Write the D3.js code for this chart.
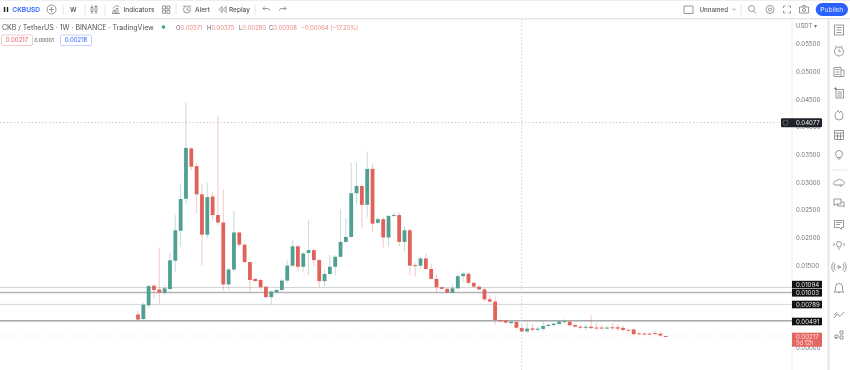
<!DOCTYPE html>
<html>
<head>
<meta charset="utf-8">
<script src="https://cdn.jsdelivr.net/npm/d3@7"></script>
<style>
  html, body { margin: 0; padding: 0; background: #fff; overflow: hidden; }
  svg { display: block; filter: blur(0.5px); }
  text { font-family: Inter, "Noto Sans", sans-serif; }
</style>
</head>
<body>
<svg id="chart"></svg>
<script>
// weekly candles, prices in units of 0.001 USDT
const opens = [
  6.06,5.24,7.72,11.27,10.6,10.0,10.67,15.79,21.2,27.0,
  36.1,32.9,27.8,20.5,27.4,24.05,22.7,11.5,14.2,20.9,
  18.7,15.55,12.5,12.3,11.1,9.2,10.1,10.5,12.2,14.9,
  18.4,14.7,17.2,17.7,15.9,12.1,13.4,14.7,16.5,19.2,
  20.1,28.0,29.3,25.9,32.4,22.65,23.3,20.0,24.0,24.05,
  19.2,21.3,15.0,14.9,16.2,14.3,12.5,11.0,10.7,10.0,
  10.8,13.0,13.45,11.8,11.1,10.6,8.8,8.4,5.05,5.0,
  4.5,4.7,3.6,3.0,3.55,3.3,3.45,3.98,4.15,4.35,
  4.8,4.75,4.15,3.85,3.7,3.85,3.7,3.7,3.55,3.75,
  3.75,3.65,3.3,3.35,2.65,2.6,2.6,2.7,2.6,2.18
];
const closes = [
  5.15,7.83,11.2,10.49,10.0,10.8,15.86,21.28,26.94,36.2,
  32.8,27.8,20.5,27.3,24.05,22.7,11.5,14.2,20.9,18.7,
  15.55,12.3,12.1,11.0,9.2,10.2,10.5,12.2,14.9,18.4,
  14.7,17.1,17.7,15.9,12.1,13.4,14.7,16.5,19.2,20.1,
  28.0,29.3,25.9,32.4,22.5,23.3,20.0,23.9,24.05,19.2,
  21.3,14.9,14.9,16.2,14.3,12.5,11.0,10.7,10.0,10.8,
  13.0,13.45,11.8,11.1,10.6,8.8,8.4,5.06,4.9,4.6,
  4.75,3.67,3.0,3.5,3.3,3.5,3.98,4.2,4.4,4.8,
  4.85,4.1,3.85,3.7,3.85,3.6,3.6,3.6,3.7,3.6,
  3.5,3.25,3.15,2.5,2.5,2.5,2.55,2.55,2.25,2.17
];
const highs = [
  6.7,8.2,11.4,11.6,18.1,11.4,17.2,24.05,29.8,44.4,
  36.4,33.5,29.7,29.9,28.2,42.0,28.6,14.5,24.8,21.1,
  19.0,15.7,12.7,12.6,11.2,10.5,10.7,12.5,15.9,19.5,
  18.6,17.4,23.1,17.85,16.1,14.2,16.8,16.8,25.1,23.45,
  33.5,33.5,29.6,35.5,33.3,23.7,23.7,24.05,24.5,24.5,
  22.1,21.5,15.4,16.5,17.1,15.2,13.2,11.2,10.9,11.4,
  13.4,13.8,13.6,12.0,11.4,10.8,9.6,9.2,5.2,5.1,
  4.9,5.0,4.4,4.7,4.3,3.8,4.9,4.4,4.5,5.0,
  5.2,4.9,4.4,4.1,4.3,5.97,4.5,4.2,4.0,4.5,
  4.3,4.0,3.4,3.5,2.8,2.85,2.8,3.1,3.0,2.2
];
const lows = [
  5.1,5.1,7.2,9.0,7.8,9.6,10.4,13.8,18.3,25.9,
  32.2,24.4,15.0,19.9,23.1,22.2,10.4,10.5,13.8,18.3,
  15.3,10.0,12.0,10.5,9.0,7.8,9.9,10.3,11.8,14.7,
  13.8,13.8,13.2,14.7,11.0,11.1,13.2,13.2,16.4,19.0,
  19.9,25.9,21.6,23.7,21.0,22.5,18.2,18.4,23.8,18.4,
  17.4,13.2,13.0,14.4,14.1,12.4,10.0,10.5,9.9,9.9,
  10.6,12.0,11.4,10.9,10.4,8.4,8.25,4.2,4.6,4.3,
  4.3,3.4,2.8,2.7,3.0,3.0,3.0,3.8,4.0,4.2,
  4.5,4.0,3.75,3.4,3.2,3.4,3.4,3.4,3.4,3.2,
  3.1,3.0,3.0,2.4,2.4,2.4,2.4,2.4,2.15,2.1
];
const priceTicks = [0, 5, 10, 15, 20, 25, 30, 35, 40, 45, 50, 55];
const levels = [10.94, 10.03, 7.89, 4.91];
const levelStyles = [['#d4d4d6', 1], ['#b4b4b6', 1.6], ['#d4d4d6', 1], ['#77777a', 1]];
const crosshairPrice = 40.77;
const lastPrice = 2.17;

const green = '#4f9f92', red = '#e0625a', axisGrey = '#6f727b', iconGrey = '#6a6d75';
const width = 850, height = 370, plotRight = 792;

const svg = d3.select('#chart').attr('width', width).attr('height', height);
const x = d3.scaleLinear().domain([0, opens.length - 1]).range([138, 665.7]);
const y = d3.scaleLinear().domain([0, 55]).range([348, 44]);
const fmt = d => (d / 1000).toFixed(5);

// axis first so the tags can sit on top of it
svg.append('line').attr('x1', plotRight).attr('x2', plotRight).attr('y1', 19).attr('y2', height)
  .attr('stroke', '#eeeef0');
const yAxis = d3.axisRight(y).tickValues(priceTicks).tickSize(0).tickPadding(0).tickFormat(fmt);
const yAxisG = svg.append('g').attr('transform', `translate(796,0)`).call(yAxis);
yAxisG.select('.domain').remove();
yAxisG.selectAll('text').attr('font-size', 6.1).attr('fill', axisGrey).attr('font-family', 'Inter');

// horizontal levels
svg.selectAll('.level').data(levels).join('line')
  .attr('class', 'level')
  .attr('x1', 0).attr('x2', plotRight)
  .attr('y1', d => y(d)).attr('y2', d => y(d))
  .attr('stroke', (d, i) => levelStyles[i][0])
  .attr('stroke-width', (d, i) => levelStyles[i][1]);

// last price guide + crosshair
svg.append('line').attr('x1', 0).attr('x2', plotRight).attr('y1', y(lastPrice)).attr('y2', y(lastPrice))
  .attr('stroke', '#f3e3e2').attr('stroke-dasharray', '1 2');
svg.append('line').attr('x1', 0).attr('x2', 781).attr('y1', y(crosshairPrice)).attr('y2', y(crosshairPrice))
  .attr('stroke', '#b9bbc0').attr('stroke-width', 0.8).attr('stroke-dasharray', '1.5 2');
svg.append('line').attr('x1', 521.7).attr('x2', 521.7).attr('y1', 19).attr('y2', height)
  .attr('stroke', '#c4c6cb').attr('stroke-width', 0.8).attr('stroke-dasharray', '1.5 2');

// candles
const candles = svg.append('g').selectAll('g').data(opens).join('g');
candles.append('line')
  .attr('x1', (d, i) => x(i)).attr('x2', (d, i) => x(i))
  .attr('y1', (d, i) => y(highs[i])).attr('y2', (d, i) => y(lows[i]))
  .attr('stroke', (d, i) => closes[i] >= d ? green : red)
  .attr('stroke-opacity', 0.35);
candles.append('rect')
  .attr('x', (d, i) => x(i) - 1.9).attr('width', 3.8)
  .attr('y', (d, i) => y(Math.max(d, closes[i])))
  .attr('height', (d, i) => Math.max(1, Math.abs(y(d) - y(closes[i]))))
  .attr('fill', (d, i) => closes[i] >= d ? green : red);

// price tags on the axis
const tagY = [284.6, 292.8, 304.5, 321.5];
svg.selectAll('.tag').data(levels).join('g').attr('class', 'tag')
  .attr('transform', (d, i) => `translate(792,${tagY[i]})`)
  .call(g => g.append('rect').attr('y', -3.8).attr('width', 30).attr('height', 7.6).attr('fill', '#111'))
  .call(g => g.append('text').attr('x', 4).attr('y', 2.2).attr('font-size', 6.1).attr('fill', '#e8e8e8').text(d => fmt(d)));

svg.append('rect').attr('x', 781).attr('y', y(crosshairPrice) - 4.5).attr('width', 41).attr('height', 9)
  .attr('rx', 1).attr('fill', '#1f2128');
svg.append('circle').attr('cx', 785.5).attr('cy', y(crosshairPrice)).attr('r', 2.6)
  .attr('fill', 'none').attr('stroke', '#8b8d94').attr('stroke-width', 0.6);
svg.append('text').attr('x', 796).attr('y', y(crosshairPrice) + 2.2).attr('font-size', 6.1)
  .attr('fill', '#eee').text(fmt(crosshairPrice));

svg.append('rect').attr('x', 792).attr('y', 332.7).attr('width', 30).attr('height', 14).attr('fill', '#e4675f');
svg.append('text').attr('x', 796).attr('y', 338.5).attr('font-size', 6.1).attr('fill', '#fde').text(fmt(lastPrice));
svg.append('text').attr('x', 796).attr('y', 345).attr('font-size', 5.6).attr('fill', '#fde').text('5d 12h');

svg.append('text').attr('x', 796).attr('y', 28).attr('font-size', 6).attr('fill', axisGrey).text('USDT ▾');

// top toolbar
svg.append('rect').attr('width', width).attr('height', 1).attr('fill', '#eeeef0');
svg.append('rect').attr('y', 18).attr('width', width).attr('height', 1.4).attr('fill', '#e6e6e8');
svg.append('rect').attr('x', 827.5).attr('y', 19).attr('width', 2).attr('height', height - 19).attr('fill', '#e6e6e8');

const toolbarText = [
  ['CKBUSD', 12.3, 6.6, '#2962ff', 600],
  ['W', 70, 6.4, '#50535a', 600],
  ['Indicators', 123.5, 6.5, '#50535a', 500],
  ['Alert', 195, 6.5, '#50535a', 500],
  ['Replay', 229, 6.5, '#50535a', 500],
  ['Unnamed', 699.5, 6.2, '#50535a', 500]
];
svg.selectAll('.tool').data(toolbarText).join('text').attr('class', 'tool')
  .attr('x', d => d[1]).attr('y', 12).attr('font-size', d => d[2])
  .attr('fill', d => d[3]).attr('font-weight', d => d[4]).text(d => d[0]);

svg.selectAll('.sep').data([63, 85, 105, 176, 255, 741]).join('line').attr('class', 'sep')
  .attr('x1', d => d).attr('x2', d => d).attr('y1', 4).attr('y2', 15).attr('stroke', '#e6e6e8');

svg.append('rect').attr('x', 815.7).attr('y', 3).attr('width', 32.3).attr('height', 13).attr('rx', 6.5).attr('fill', '#2962ff');
svg.append('text').attr('x', 831.8).attr('y', 12).attr('text-anchor', 'middle').attr('font-size', 6.7)
  .attr('fill', '#e6ecff').text('Publish');

// icons are plain little outlines, path relative to their centre
const shapes = {
  plus: 'M-4.5,0a4.5,4.5 0 1,0 9,0a4.5,4.5 0 1,0 -9,0M-2.5,0H2.5M0,-2.5V2.5',
  candle: 'M-3,-2h2v4h-2zM1,-3h2v5h-2zM-2,-4.5V-2M-2,2V4.5M2,-4.5V-3M2,2V4.5',
  indicators: 'M-4,4H4M-3,4V1h2V4M0,4V-1h2V4M-3,-1L0,-4L3,-3',
  grid: 'M-3.5,-3.5h3v3h-3zM0.8,-3.5h3v3h-3zM-3.5,0.8h3v3h-3zM0.8,0.8h3v3h-3z',
  alert: 'M-3.5,0a3.5,3.5 0 1,0 7,0a3.5,3.5 0 1,0 -7,0M0,-2V0.5H2M-4,-3L-2.5,-4.5M4,-3L2.5,-4.5',
  replay: 'M-1,-3L-4,0L-1,3zM3,-3L0,0L3,3z',
  undo: 'M-3,-1L-1,-3M-3,-1L-1,1M-3,-1H1.5a2,2 0 0 1 2,2',
  redo: 'M3,-1L1,-3M3,-1L1,1M3,-1H-1.5a2,2 0 0 0 -2,2',
  square: 'M-4.5,-3.5h9v7.5h-9z',
  chevron: 'M-1.5,-0.7L0,0.7L1.5,-0.7',
  search: 'M-3.5,-1a3,3 0 1,0 6,0a3,3 0 1,0 -6,0M1.5,1.5L4,4',
  gear: 'M-4,0a4,4 0 1,0 8,0a4,4 0 1,0 -8,0M-1.5,0a1.5,1.5 0 1,0 3,0a1.5,1.5 0 1,0 -3,0',
  full: 'M-3.5,-1.5v-2h2M1.5,-3.5h2v2M3.5,1.5v2h-2M-1.5,3.5h-2v-2',
  camera: 'M-4.5,-2.5h9v6h-9zM-1.5,0.5a1.5,1.5 0 1,0 3,0a1.5,1.5 0 1,0 -3,0M-2,-2.5L-1,-4H1L2,-2.5',
  list: 'M-4.5,-5h9v10h-9zM-2.5,-2.5h5M-2.5,0h5M-2.5,2.5h5',
  clock: 'M-4.5,0.5a4.5,4.5 0 1,0 9,0a4.5,4.5 0 1,0 -9,0M0,-2V0.5H2M-4,-4L-2.5,-5M4,-4L2.5,-5',
  news: 'M-5,-4.5h7v9h-7zM2,-2h3v6.5h-3M-3.5,-2.5h4M-3.5,0h4M-3.5,2.5h4',
  addList: 'M-3,-3.5h7.5v8.5h-7.5zM-1.5,-1h4.5M-1.5,1h4.5M-1.5,3h4.5M-5,-4.5h3M-3.5,-6V-3',
  hot: 'M-4,1a4,4 0 1,0 8,0c0,-2 -1,-3 -2,-5c-1,1 -1,1.5 -1.5,1.5c-1,0 -1,-1 -1,-2c-2,1 -3.5,3 -3.5,5.5z',
  calendar: 'M-4.5,-4.5h9v9h-9zM-4.5,-2h9M-1.5,-2v6.5M1.5,-2v6.5M-4.5,1h9',
  bulb: 'M-3.5,-1a3.5,3.5 0 1,1 7,0c0,1.5 -1.5,2 -1.5,3.5h-4c0,-1.5 -1.5,-2 -1.5,-3.5zM-1.5,4h3',
  cloud: 'M-4.5,2c-2,-2 0,-4.5 2,-4c1,-2 5,-2 6,0c2,0 2.5,3 0.5,4zM1,2l1.5,2',
  chat: 'M-5,-4h7v5h-5l-2,1.5zM2,-1h3v5l-1.5,-1h-5v-2',
  comment: 'M-4.5,-4.5h9v7h-2v2l-2,-2h-5zM-3,-2.5h6M-3,-0.5h4',
  idea: 'M-2.5,-1a2.5,2.5 0 1,1 5,0c0,1 -1,1.5 -1,3h-3c0,-1.5 -1,-2 -1,-3zM-1,4h2M-5,-2v3M5,-2v3',
  stream: 'M-1,-1.5L2,0L-1,1.5zM-3.5,-3.5a5,5 0 0,0 0,7M3.5,-3.5a5,5 0 0,1 0,7M-5.2,-5a7,7 0 0,0 0,10M5.2,-5a7,7 0 0,1 0,10',
  bell: 'M-3.5,2.5V-1a3.5,3.5 0 1,1 7,0V2.5L5,4H-5zM-1,4.5h2',
  wave: 'M-5,3L-2,-1L1,1.5L5,-3M-5,0L-2,-3',
  dots: 'M-4,0h3v3h-3zM1,-4h3v3h-3zM1,1h3v3h-3zM-3,2V4',
  bars: 'M-3.2,-2.5h1.4v5h-1.4zM-0.2,-2.5h1.4v5h-1.4z'
};
const icons = [
  ['bars', 7, 9.5], ['plus', 51.5, 9.5], ['candle', 94, 9.5], ['indicators', 116, 9.5], ['grid', 166, 9.5],
  ['alert', 187, 9.5], ['replay', 223, 9.5], ['undo', 266, 9.5], ['redo', 283, 9.5],
  ['square', 688.5, 9.5], ['chevron', 734, 9.5], ['search', 752, 9.5], ['gear', 770, 9.5], ['full', 787, 9.5], ['camera', 804, 9.5],
  ['list', 839, 30], ['clock', 839, 51], ['news', 839, 72], ['addList', 839, 93], ['hot', 839, 115], ['calendar', 839, 135],
  ['bulb', 839, 155], ['cloud', 839, 183], ['chat', 839, 203], ['comment', 839, 225], ['idea', 839, 245], ['stream', 839, 267],
  ['bell', 839, 288], ['wave', 839, 315], ['dots', 839, 335]
];
svg.selectAll('.icon').data(icons).join('path').attr('class', 'icon')
  .attr('transform', d => `translate(${d[1]},${d[2]})`)
  .attr('d', d => shapes[d[0]])
  .attr('fill', d => d[0] === 'bars' ? '#1f2128' : 'none')
  .attr('stroke', d => d[0] === 'bars' ? 'none' : iconGrey)
  .attr('stroke-width', 0.7);

svg.append('line').attr('x1', 832).attr('x2', 847).attr('y1', 170).attr('y2', 170).attr('stroke', '#e6e6e8');

// legend rows
svg.append('text').attr('x', 2).attr('y', 30).attr('font-size', 7).attr('fill', '#50535a')
  .text('CKB / TetherUS · 1W · BINANCE · TradingView');
svg.append('circle').attr('cx', 163.5).attr('cy', 27).attr('r', 1.8).attr('fill', '#3f9f86');

const ohlcLabels = ['O', 'H', 'L', 'C'];
const ohlcValues = ['0.00371', '0.00375', '0.00280', '0.00308'];
const ohlcX = [176, 207, 239, 269];
const ohlc = svg.append('text').attr('y', 30).attr('font-size', 5.9);
ohlcLabels.forEach((l, i) => {
  ohlc.append('tspan').attr('x', ohlcX[i]).attr('fill', '#5d6068').text(l);
  ohlc.append('tspan').attr('fill', '#e88b85').text(ohlcValues[i]);
});
ohlc.append('tspan').attr('x', 301).attr('fill', '#e88b85').text('−0.00064 (−17.20%)');

svg.append('rect').attr('x', 1.5).attr('y', 35).attr('width', 31).attr('height', 10.5).attr('rx', 1.5)
  .attr('fill', '#fff').attr('stroke', '#eeb4b0').attr('stroke-width', 0.7);
svg.append('text').attr('x', 17).attr('y', 42.3).attr('text-anchor', 'middle').attr('font-size', 6).attr('fill', '#e0625a').text('0.00217');
svg.append('text').attr('x', 44).attr('y', 42.3).attr('text-anchor', 'middle').attr('font-size', 5.2).attr('fill', '#3d3f46').text('0.00001');
svg.append('rect').attr('x', 60.5).attr('y', 35).attr('width', 31).attr('height', 10.5).attr('rx', 1.5)
  .attr('fill', '#fff').attr('stroke', '#a9bdf5').attr('stroke-width', 0.7);
svg.append('text').attr('x', 76).attr('y', 42.3).attr('text-anchor', 'middle').attr('font-size', 6).attr('fill', '#2962ff').text('0.00218');
</script>
</body>
</html>
